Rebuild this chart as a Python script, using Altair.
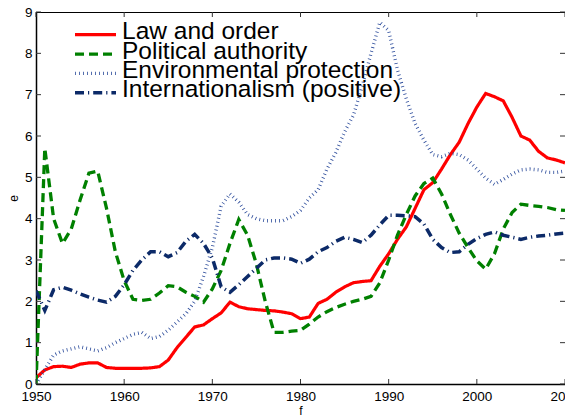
import altair as alt
import pandas as pd

years = list(range(1950, 2011))

law_and_order = [0.15, 0.34, 0.42, 0.43, 0.40, 0.48, 0.51, 0.51, 0.40, 0.38,
                 0.38, 0.38, 0.38, 0.39, 0.42, 0.58, 0.88, 1.13, 1.38, 1.43,
                 1.58, 1.72, 1.98, 1.87, 1.82, 1.80, 1.78, 1.77, 1.74, 1.70,
                 1.58, 1.62, 1.95, 2.05, 2.22, 2.35, 2.45, 2.48, 2.50, 2.85,
                 3.15, 3.50, 3.80, 4.25, 4.70, 4.87, 5.20, 5.55, 5.85, 6.30,
                 6.70, 7.03, 6.95, 6.85, 6.45, 6.00, 5.90, 5.63, 5.47, 5.42,
                 5.35]

political_authority = [0.0, 5.70, 4.00, 3.40, 3.75, 4.45, 5.10, 5.15, 4.25, 3.20,
                       2.50, 2.05, 2.02, 2.05, 2.20, 2.38, 2.35, 2.22, 2.12, 1.98,
                       2.30, 2.75, 3.40, 3.98, 3.60, 2.90, 2.00, 1.25, 1.25, 1.28,
                       1.30, 1.45, 1.62, 1.75, 1.85, 1.93, 2.00, 2.05, 2.12, 2.45,
                       3.00, 3.60, 4.10, 4.55, 4.85, 4.98, 4.60, 4.10, 3.65, 3.30,
                       2.98, 2.78, 3.15, 3.75, 4.15, 4.35, 4.32, 4.30, 4.27, 4.22,
                       4.20]

environmental_protection = [0.0, 0.35, 0.70, 0.80, 0.85, 0.90, 0.85, 0.80, 0.88, 1.00,
                            1.10, 1.20, 1.25, 1.10, 1.15, 1.30, 1.50, 1.70, 2.00, 2.60,
                            3.30, 4.30, 4.60, 4.40, 4.10, 4.00, 3.95, 3.95, 3.95, 4.05,
                            4.20, 4.50, 4.70, 5.20, 5.60, 6.10, 6.50, 7.20, 8.00, 8.75,
                            8.55, 7.60, 6.90, 6.30, 5.90, 5.55, 5.50, 5.58, 5.55, 5.42,
                            5.20, 4.98, 4.83, 4.95, 5.08, 5.18, 5.20, 5.18, 5.12, 5.12,
                            5.15]

internationalism = [2.26, 1.78, 2.28, 2.34, 2.27, 2.18, 2.10, 2.03, 1.98, 2.12,
                    2.40, 2.75, 3.00, 3.20, 3.20, 3.08, 3.18, 3.45, 3.62, 3.40,
                    3.05, 2.35, 2.22, 2.40, 2.60, 2.80, 3.00, 3.05, 3.05, 3.02,
                    2.92, 3.02, 3.20, 3.30, 3.45, 3.55, 3.50, 3.42, 3.60, 3.85,
                    4.08, 4.08, 4.07, 4.05, 3.87, 3.50, 3.30, 3.18, 3.20, 3.38,
                    3.52, 3.62, 3.68, 3.60, 3.55, 3.50, 3.55, 3.58, 3.60, 3.63,
                    3.65]

series_names = ["Law and order", "Political authority",
                "Environmental protection", "Internationalism (positive)"]
series_values = [law_and_order, political_authority,
                 environmental_protection, internationalism]

x_ticks = list(range(1950, 2011, 10))
y_ticks = list(range(0, 10))

rows = []
for name, vals in zip(series_names, series_values):
    for yr, v in zip(years, vals):
        rows.append({"year": yr, "value": v, "series": name})
df = pd.DataFrame(rows)
legend_df = pd.DataFrame({"series": series_names, "row": list(range(len(series_names)))})

W, H = 529, 372
FONT = "Liberation Sans"

xscale = alt.Scale(domain=[1950, 2010], nice=False, zero=False)
yscale = alt.Scale(domain=[0, 9], nice=False)
leg_scale = alt.Scale(domain=[0, 3], range=[22.7, 80.7], nice=False, zero=False)

color_scale = alt.Scale(domain=series_names,
                        range=["#ff0000", "#008000", "#2a4a9a", "#0c2a68"])
dash_scale = alt.Scale(domain=series_names,
                       range=[[1, 0], [9, 5], [0.8, 3.2], [9, 4, 1.2, 4]])
width_scale = alt.Scale(domain=series_names, range=[3.2, 3.5, 2.5, 3.2])

style_enc = dict(
    color=alt.Color("series:N", scale=color_scale, legend=None),
    strokeDash=alt.StrokeDash("series:N", scale=dash_scale, legend=None),
    strokeWidth=alt.StrokeWidth("series:N", scale=width_scale, legend=None),
)

x_axis = alt.Axis(title="f", values=x_ticks, format="d", ticks=False,
                  grid=False, labelPadding=5, titlePadding=3,
                  labelFlush=False, labelOverlap=False)

lines = alt.Chart(df).mark_line(clip=True).encode(
    x=alt.X("year:Q", scale=xscale, axis=x_axis),
    y=alt.Y("value:Q", scale=yscale,
            axis=alt.Axis(title="e", values=y_ticks, ticks=False, grid=False,
                          labelPadding=4, titlePadding=4, labelFlush=False,
                          labelOverlap=False)),
    **style_enc,
)

leg_rules = alt.Chart(legend_df).mark_rule().encode(
    x=alt.value(39), x2=alt.value(80),
    y=alt.Y("row:Q", scale=leg_scale, axis=None),
    **style_enc,
)
leg_text = alt.Chart(legend_df).mark_text(
    align="left", baseline="alphabetic", dy=4.6, font=FONT, fontSize=24.5, color="#000000"
).encode(
    x=alt.value(86),
    y=alt.Y("row:Q", scale=leg_scale, axis=None),
    text="series:N",
)

xt = pd.DataFrame({"year": x_ticks})
yt = pd.DataFrame({"value": y_ticks})

tick_color = "#333333"
xticks_bottom = alt.Chart(xt).mark_rule(color=tick_color, strokeWidth=1).encode(
    x=alt.X("year:Q", scale=xscale, axis=x_axis), y=alt.value(H), y2=alt.value(H - 5))
xticks_top = alt.Chart(xt).mark_rule(color=tick_color, strokeWidth=1).encode(
    x=alt.X("year:Q", scale=xscale, axis=x_axis), y=alt.value(0), y2=alt.value(5))
yticks_left = alt.Chart(yt).mark_rule(color=tick_color, strokeWidth=1).encode(
    y=alt.Y("value:Q", scale=yscale, axis=None), x=alt.value(0), x2=alt.value(5))
yticks_right = alt.Chart(yt).mark_rule(color=tick_color, strokeWidth=1).encode(
    y=alt.Y("value:Q", scale=yscale, axis=None), x=alt.value(W), x2=alt.value(W - 5))

chart = alt.layer(
    lines, xticks_bottom, xticks_top, yticks_left, yticks_right, leg_rules, leg_text
).resolve_scale(y="independent").properties(
    width=W, height=H,
    autosize=alt.AutoSizeParams(type="none"),
    padding={"left": 28, "top": 4, "right": 0, "bottom": 34},
).configure_view(
    stroke="#000000", strokeWidth=1
).configure_axis(
    domainColor="#000000", domainWidth=1.5,
    labelFont=FONT, labelFontSize=13.5, labelColor="#000000",
    titleFont=FONT, titleFontSize=12, titleFontWeight="normal", titleColor="#000000",
)

chart.save("out.html", embed_options={"renderer": "svg", "actions": False})
